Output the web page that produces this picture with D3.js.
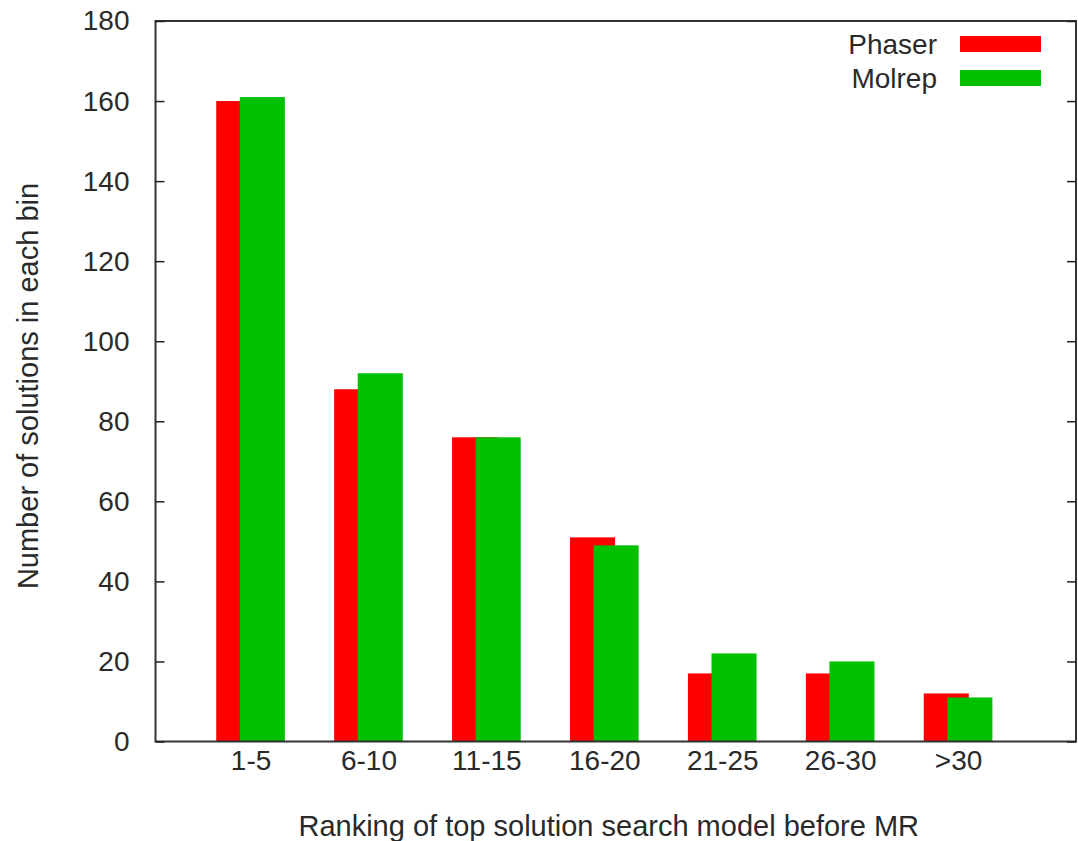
<!DOCTYPE html>
<html>
<head>
<meta charset="utf-8">
<script src="https://cdn.jsdelivr.net/npm/d3@7"></script>
<style>
  html, body { margin: 0; padding: 0; background: #fff; }
  svg text { font-family: "Liberation Sans", Arial, sans-serif; fill: #2a2a2a; }
</style>
</head>
<body>
<svg id="chart" width="1078" height="841"></svg>
<script>
// Ranking bins and counts per program
const categories = ["1-5", "6-10", "11-15", "16-20", "21-25", "26-30", ">30"];
const phaser = [160, 88, 76, 51, 17, 17, 12];
const molrep = [161, 92, 76, 49, 22, 20, 11];
const seriesNames = ["Phaser", "Molrep"];
const seriesColors = ["#ff0000", "#00c000"];
const yTicks = [0, 20, 40, 60, 80, 100, 120, 140, 160, 180];

const svg = d3.select("#chart");
const plotL = 155.5, plotR = 1076, plotT = 21, plotB = 741.5;
const tickFont = 28, titleFont = 29;

const x = d3.scaleLinear().domain([-0.806, 7.0]).range([plotL, plotR]);
const y = d3.scaleLinear().domain([0, 180]).range([plotB, plotT]);

const barW = 0.382;      // width of each bar in group units
const shift = 0.2;       // offset of the second bar within a group
const firstOffset = -(barW + shift) / 2;

// bars: Phaser first, Molrep drawn on top with a shift
[phaser, molrep].forEach((vals, s) => {
  svg.append("g").selectAll("rect")
    .data(vals)
    .join("rect")
    .attr("x", (d, i) => x(i + firstOffset + s * shift))
    .attr("width", x(barW) - x(0))
    .attr("y", d => y(d))
    .attr("height", d => y(0) - y(d))
    .attr("fill", seriesColors[s]);
});

// frame
svg.append("rect")
  .attr("x", plotL).attr("y", plotT)
  .attr("width", plotR - plotL).attr("height", plotB - plotT)
  .attr("fill", "none").attr("stroke", "#333").attr("stroke-width", 2);

// y axis ticks (inward, mirrored on the right)
const yAxisL = d3.axisLeft(y).tickValues(yTicks).tickSize(-9).tickPadding(26);
const gL = svg.append("g").attr("transform", `translate(${plotL},0)`).call(yAxisL);
gL.select(".domain").remove();
gL.selectAll("line").attr("stroke", "#222").attr("stroke-width", 1.5);
gL.selectAll("text").attr("font-size", tickFont).attr("fill", "#2a2a2a")
  .attr("font-family", "Liberation Sans, Arial, sans-serif");

const yAxisR = d3.axisRight(y).tickValues(yTicks).tickSize(-9).tickFormat("");
const gR = svg.append("g").attr("transform", `translate(${plotR},0)`).call(yAxisR);
gR.select(".domain").remove();
gR.selectAll("line").attr("stroke", "#222").attr("stroke-width", 1.5);

// x category labels
const xAxis = d3.axisBottom(x)
  .tickValues(d3.range(categories.length))
  .tickFormat(i => categories[i])
  .tickSize(0).tickPadding(9);
const gX = svg.append("g").attr("transform", `translate(0,${plotB})`).call(xAxis);
gX.select(".domain").remove();
gX.selectAll("text").attr("font-size", tickFont).attr("fill", "#2a2a2a")
  .attr("font-family", "Liberation Sans, Arial, sans-serif");

// axis titles
svg.append("text")
  .attr("x", (plotL + plotR) / 2 - 7).attr("y", 836)
  .attr("text-anchor", "middle").attr("font-size", titleFont)
  .text("Ranking of top solution search model before MR");

svg.append("text")
  .attr("transform", "translate(38,386) rotate(-90)")
  .attr("text-anchor", "middle").attr("font-size", titleFont)
  .text("Number of solutions in each bin");

// legend
const legend = svg.append("g");
seriesNames.forEach((name, s) => {
  const cy = 44 + s * 34;
  legend.append("text")
    .attr("x", 937).attr("y", cy).attr("dy", "0.35em")
    .attr("text-anchor", "end").attr("font-size", tickFont)
    .text(name);
  legend.append("rect")
    .attr("x", 960).attr("y", cy - 8).attr("width", 81).attr("height", 16)
    .attr("fill", seriesColors[s]);
});
</script>
</body>
</html>
